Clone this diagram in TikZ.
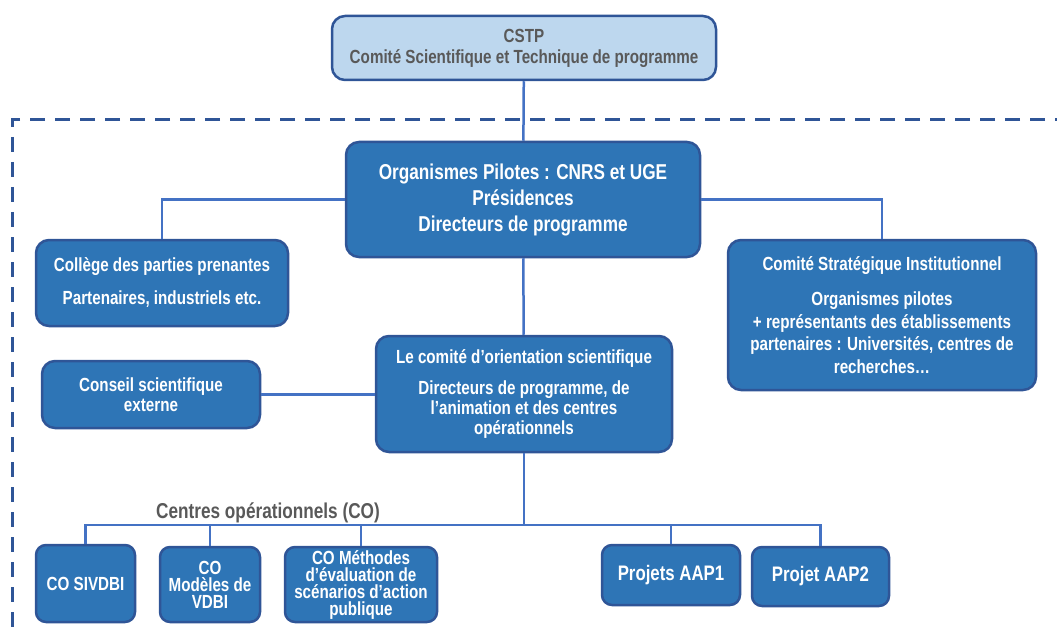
\documentclass[tikz,border=0pt]{standalone}
\usepackage{fontspec}
\setmainfont{Liberation Sans}[FakeStretch=0.8]
\definecolor{boxblue}{HTML}{2E75B6}
\definecolor{edgeblue}{HTML}{2F5597}
\definecolor{lineblue}{HTML}{4472C4}
\definecolor{paleblue}{HTML}{BDD7EE}
\definecolor{textgray}{HTML}{595959}

\begin{document}
\begin{tikzpicture}[x=1pt,y=-1pt]
    \tikzstyle{orgbox}=[rectangle,rounded corners=13pt,draw=edgeblue,line width=2.5pt,fill=boxblue,
                        text=white,align=center,inner sep=2pt,font=\bfseries\fontsize{19}{21}\selectfont]
    \tikzstyle{smallbox}=[orgbox,rounded corners=10pt,font=\bfseries\fontsize{19}{17}\selectfont]
    \tikzstyle{link}=[draw=lineblue,line width=2.5pt]

    \clip (0,0) rectangle (1057,631);

    % cadre du programme
    \draw[edgeblue,line width=3pt,dash pattern=on 15pt off 10pt] (1070,120) -- (12,120) -- (12,650);

    \node[orgbox,fill=paleblue,text=textgray,minimum width=384pt,minimum height=64pt,
          font=\bfseries\fontsize{19}{21}\selectfont] (cstp) at (524,48)
        {CSTP\\Comité Scientifique et Technique de programme};

    \node[orgbox,minimum width=354pt,minimum height=115pt,font=\bfseries\fontsize{21.5}{26}\selectfont]
        (pilotes) at (523,199.5)
        {Organismes Pilotes : CNRS et UGE\\Présidences\\Directeurs de programme};

    \node[orgbox,minimum width=252pt,minimum height=86pt] (college) at (162,283)
        {Collège des parties prenantes\\[12pt]Partenaires, industriels etc.};

    \node[orgbox,minimum width=308pt,minimum height=150pt,font=\bfseries\fontsize{19}{22.5}\selectfont]
        (csi) at (882,315)
        {Comité Stratégique Institutionnel\\[13pt]Organismes pilotes\\+ représentants des établissements\\partenaires : Universités, centres de\\recherches…};

    \node[orgbox,minimum width=296pt,minimum height=116pt,font=\bfseries\fontsize{19}{20}\selectfont]
        (cos) at (524,394)
        {Le comité d’orientation scientifique\\[11pt]Directeurs de programme, de\\l’animation et des centres\\opérationnels};

    \node[orgbox,minimum width=218pt,minimum height=67pt,font=\bfseries\fontsize{19}{20}\selectfont]
        (conseil) at (151,394.5) {Conseil scientifique\\externe};

    % centres operationnels et projets
    \foreach \name/\x/\y/\w/\h/\txt in {sivdbi/85.5/583.5/99/77/{CO SIVDBI},
                                         modeles/210/584.5/100/75/{CO\\Modèles de\\VDBI},
                                         methodes/361/584.5/152/75/{CO Méthodes\\d’évaluation de\\scénarios d’action\\publique}}
      \node[smallbox,minimum width=\w pt,minimum height=\h pt] (\name) at (\x,\y) {\txt};

    \foreach \name/\x/\y/\w/\h/\txt in {aap1/671/575/138/60/{Projets AAP1},
                                         aap2/820.5/576.5/137/59/{Projet AAP2}}
      \node[smallbox,minimum width=\w pt,minimum height=\h pt,font=\bfseries\fontsize{21}{22}\selectfont]
        (\name) at (\x,\y) {\txt};

    \node[text=textgray,font=\bfseries\fontsize{21.5}{22}\selectfont,inner sep=0pt] (colabel) at (268,513)
        {Centres opérationnels (CO)};

    % liaisons
    \coordinate (bus) at (524,525);
    \draw[link] (cstp) -- (pilotes);
    \draw[link] (pilotes.west) -| (college.north);
    \draw[link] (pilotes.east) -| (csi.north);
    \draw[link] (pilotes) -- (cos);
    \draw[link] (conseil.east) -- (conseil.east -| cos.west);
    \draw[link] (cos.south) -- (bus);
    \foreach \name in {sivdbi,modeles,methodes,aap1,aap2}
      \draw[link] (bus) -| (\name.north);
\end{tikzpicture}
\end{document}
